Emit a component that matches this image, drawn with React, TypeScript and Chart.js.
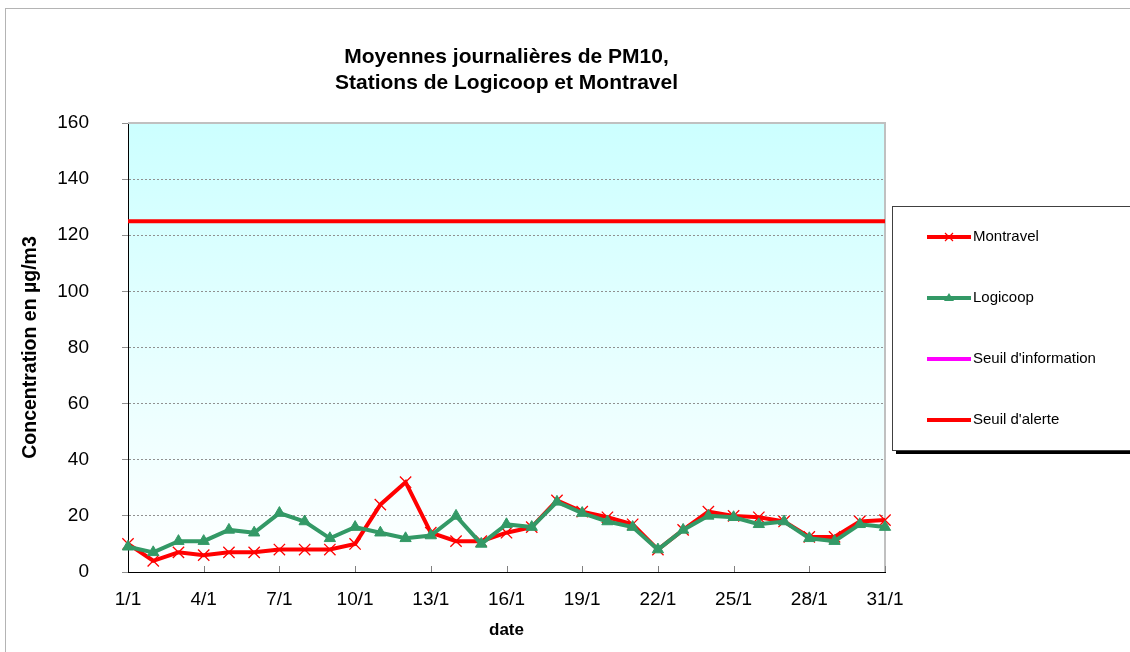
import React, { useEffect, useRef } from "react";
import { Chart, registerables } from "chart.js";

Chart.register(...registerables);

const dates = [
  "1/1", "2/1", "3/1", "4/1", "5/1", "6/1", "7/1", "8/1", "9/1", "10/1",
  "11/1", "12/1", "13/1", "14/1", "15/1", "16/1", "17/1", "18/1", "19/1", "20/1",
  "21/1", "22/1", "23/1", "24/1", "25/1", "26/1", "27/1", "28/1", "29/1", "30/1", "31/1",
];
const montravel = [10, 4, 7, 6, 7, 7, 8, 8, 8, 10, 24, 32, 14, 11, 11, 14, 16, 25.5, 21.5, 19.5, 17, 8, 15, 21.5, 20, 19.5, 18, 12.5, 12.5, 18, 18.5];
const logicoop = [9, 7, 11, 11, 15, 14, 21, 18, 12, 16, 14, 12, 13, 20, 10, 17, 16, 25, 21, 18, 16, 8, 15, 20, 19.5, 17, 18, 12, 11, 17, 16];
const seuilInformation: (number | null)[] = [
  null, null, null, null, null, null, null, null, null, null, null, null, null, null, null, null,
  null, null, null, null, null, null, null, null, null, null, null, null, null, null, null,
];
const seuilAlerte = [125, 125, 125, 125, 125, 125, 125, 125, 125, 125, 125, 125, 125, 125, 125, 125, 125, 125, 125, 125, 125, 125, 125, 125, 125, 125, 125, 125, 125, 125, 125];
const yTicks = [0, 20, 40, 60, 80, 100, 120, 140, 160];
const titleLines = ["Moyennes journalières de PM10,", "Stations de Logicoop et Montravel"];
const yTitle = "Concentration en µg/m3";
const xTitle = "date";

const FONT = "'Liberation Sans', Arial, sans-serif";
const RED = "#ff0000";
const GREEN = "#339966";
const MAGENTA = "#ff00ff";

const legendItems = [
  { label: "Montravel", color: RED, marker: "cross" },
  { label: "Logicoop", color: GREEN, marker: "triangle" },
  { label: "Seuil d'information", color: MAGENTA, marker: "none" },
  { label: "Seuil d'alerte", color: RED, marker: "none" },
];

const decorPlugin = {
  id: "decor",
  beforeDraw(chart: any) {
    const { ctx, chartArea: a } = chart;
    ctx.save();
    ctx.fillStyle = "#ffffff";
    ctx.fillRect(0, 0, chart.width, chart.height);
    ctx.strokeStyle = "#b4b4b4";
    ctx.lineWidth = 1;
    ctx.strokeRect(5.5, 8.5, 1300, 800);
    const g = ctx.createLinearGradient(0, a.top, 0, a.bottom);
    g.addColorStop(0, "#ccffff");
    g.addColorStop(1, "#ffffff");
    ctx.fillStyle = g;
    ctx.fillRect(a.left, a.top, a.right - a.left, a.bottom - a.top);
    ctx.restore();
  },
  beforeDatasetsDraw(chart: any) {
    const { ctx, chartArea: a, scales } = chart;
    ctx.save();
    ctx.strokeStyle = "#c0c0c0";
    ctx.lineWidth = 2;
    ctx.beginPath();
    ctx.moveTo(a.left, a.top);
    ctx.lineTo(a.right, a.top);
    ctx.lineTo(a.right, a.bottom);
    ctx.stroke();
    ctx.strokeStyle = "#808080";
    ctx.lineWidth = 1;
    dates.forEach((_, i) => {
      if (i % 3 === 0 && i > 0) {
        const x = Math.round(scales.x.getPixelForValue(i)) + 0.5;
        ctx.beginPath();
        ctx.moveTo(x, a.bottom - 6);
        ctx.lineTo(x, a.bottom);
        ctx.stroke();
      }
    });
    ctx.restore();
  },
  afterDraw(chart: any) {
    const { ctx, chartArea: a } = chart;
    ctx.save();
    ctx.fillStyle = "#000";
    ctx.font = `bold 21px ${FONT}`;
    ctx.textAlign = "center";
    ctx.textBaseline = "middle";
    const cx = (a.left + a.right) / 2;
    ctx.fillText(titleLines[0], cx, 57);
    ctx.fillText(titleLines[1], cx, 83);
    ctx.font = `bold 17px ${FONT}`;
    ctx.fillText(xTitle, cx, 630);
    ctx.save();
    ctx.translate(31, (a.top + a.bottom) / 2);
    ctx.rotate(-Math.PI / 2);
    ctx.font = `bold 19.5px ${FONT}`;
    ctx.fillText(yTitle, 0, 0);
    ctx.restore();
    const lx = 892, ly = 206, lw = 300, lh = 244;
    ctx.fillStyle = "#000";
    ctx.fillRect(lx + 4, ly + 4, lw, lh);
    ctx.fillStyle = "#fff";
    ctx.fillRect(lx, ly, lw, lh);
    ctx.strokeStyle = "#404040";
    ctx.lineWidth = 1;
    ctx.strokeRect(lx + 0.5, ly + 0.5, lw, lh);
    const ys = [237, 298, 359, 420];
    legendItems.forEach((it, i) => {
      const y = ys[i];
      ctx.strokeStyle = it.color;
      ctx.lineWidth = 4;
      ctx.beginPath();
      ctx.moveTo(927, y);
      ctx.lineTo(971, y);
      ctx.stroke();
      if (it.marker === "cross") {
        ctx.lineWidth = 1.2;
        ctx.beginPath();
        ctx.moveTo(945, y - 4);
        ctx.lineTo(953, y + 4);
        ctx.moveTo(953, y - 4);
        ctx.lineTo(945, y + 4);
        ctx.stroke();
      } else if (it.marker === "triangle") {
        ctx.fillStyle = it.color;
        ctx.beginPath();
        ctx.moveTo(949, y - 5);
        ctx.lineTo(954, y + 3);
        ctx.lineTo(944, y + 3);
        ctx.closePath();
        ctx.fill();
      }
      ctx.fillStyle = "#000";
      ctx.font = `15px ${FONT}`;
      ctx.textAlign = "left";
      ctx.textBaseline = "middle";
      ctx.fillText(it.label, 973, y);
    });
    ctx.restore();
  },
};

export default function App() {
  const ref = useRef<HTMLCanvasElement>(null);
  useEffect(() => {
    document.body.style.margin = "0";
    const chart = new Chart(ref.current!, {
      type: "line",
      data: {
        labels: dates,
        datasets: [
          {
            label: "Montravel",
            data: montravel,
            borderColor: RED,
            backgroundColor: RED,
            borderWidth: 4,
            pointStyle: "crossRot",
            pointRadius: 8,
            pointBorderColor: RED,
            pointBorderWidth: 1.3,
            order: 1,
          },
          {
            label: "Logicoop",
            data: logicoop,
            borderColor: GREEN,
            backgroundColor: GREEN,
            borderWidth: 4,
            pointStyle: "triangle",
            pointRadius: 6.5,
            pointBackgroundColor: GREEN,
            pointBorderColor: GREEN,
            pointBorderWidth: 1,
            order: 0,
          },
          {
            label: "Seuil d'information",
            data: seuilInformation,
            borderColor: MAGENTA,
            borderWidth: 4,
            pointRadius: 0,
            order: 2,
          },
          {
            label: "Seuil d'alerte",
            data: seuilAlerte,
            borderColor: RED,
            borderWidth: 4,
            pointRadius: 0,
            order: 3,
          },
        ],
      },
      options: {
        responsive: false,
        animation: false,
        devicePixelRatio: 1,
        layout: { padding: { left: 0, top: 123, right: 245, bottom: 0 } },
        plugins: { legend: { display: false }, title: { display: false }, tooltip: { enabled: false } },
        scales: {
          x: {
            offset: false,
            afterFit: (s: any) => { s.height = 80; },
            grid: { display: true, drawOnChartArea: false, drawTicks: false, color: "transparent" },
            border: { display: true, color: "#000", width: 1 },
            ticks: {
              autoSkip: false,
              maxRotation: 0,
              padding: 16,
              color: "#000",
              font: { family: FONT, size: 19 },
              callback: (_v: any, i: number) => (i % 3 === 0 ? dates[i] : ""),
            },
          },
          y: {
            min: 0,
            max: 160,
            afterFit: (s: any) => { s.width = 128; },
            afterBuildTicks: (s: any) => { s.ticks = yTicks.map((v) => ({ value: v })); },
            grid: { color: "#909090", tickLength: 6, tickColor: "#909090", tickBorderDash: [] },
            border: { display: true, color: "#000", width: 1, dash: [2, 2] },
            ticks: { padding: 33, color: "#000", font: { family: FONT, size: 19 } },
          },
        },
      },
      plugins: [decorPlugin],
    });
    return () => chart.destroy();
  }, []);
  return (
    <div style={{ position: "fixed", left: 0, top: 0, width: 1130, height: 652 }}>
      <canvas ref={ref} width={1130} height={652} />
    </div>
  );
}
